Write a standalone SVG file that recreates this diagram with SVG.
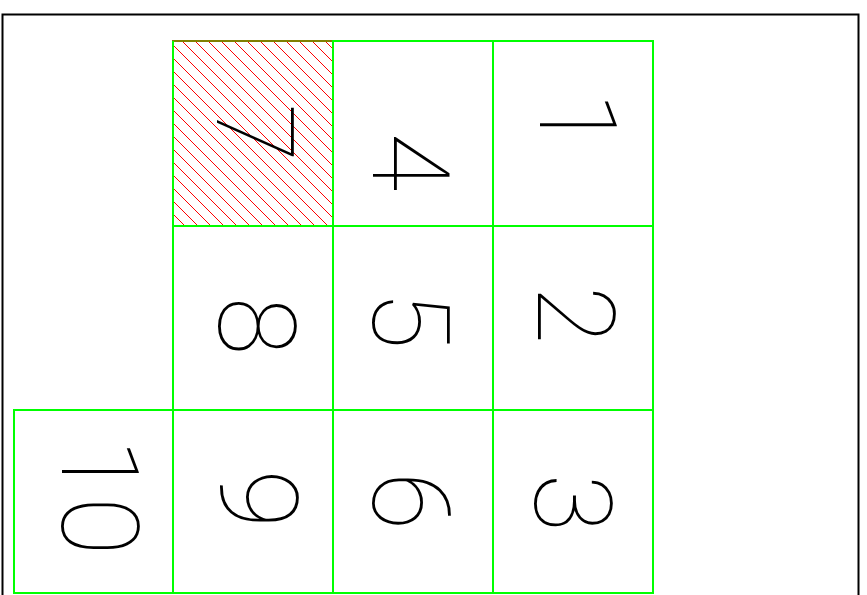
<svg xmlns="http://www.w3.org/2000/svg" width="867" height="595" viewBox="0 0 867 595">
<style>
.cell{fill:none;stroke:#00ff00;stroke-width:2}
.digit{font-family:Roboto,"DejaVu Sans",sans-serif;font-weight:100;font-size:107px;fill:#000;text-anchor:middle}
.frame{fill:none;stroke:#000;stroke-width:2}
.hatch{fill:none;stroke:#ff0000;stroke-width:1;shape-rendering:crispEdges}
</style>
<defs>
<clipPath id="clip7"><rect x="173" y="41" width="160" height="185"/></clipPath>
</defs>
<rect width="867" height="595" fill="#fff"/>
<rect class="frame" x="2.5" y="14.5" width="856" height="600"/>
<g id="cell-7">
<path class="hatch" clip-path="url(#clip7)" d="M173,-111L333,49M173,-98L333,62M173,-85L333,75M173,-72L333,88M173,-59L333,101M173,-46L333,114M173,-33L333,127M173,-20L333,140M173,-7L333,153M173,6L333,166M173,19L333,179M173,32L333,192M173,45L333,205M173,58L333,218M173,71L333,231M173,84L333,244M173,97L333,257M173,110L333,270M173,123L333,283M173,136L333,296M173,149L333,309M173,162L333,322M173,175L333,335M173,188L333,348M173,201L333,361M173,214L333,374"/>
<rect x="173" y="41" width="160" height="185" fill="none" stroke="#808000" stroke-width="2"/>
<line x1="173" y1="41" x2="173" y2="226" stroke="#00ff00" stroke-width="2"/>
<text class="digit" transform="translate(217,133) rotate(90)">7</text>
</g>
<g id="cell-4">
<rect class="cell" x="333" y="41" width="160" height="185"/>
<text class="digit" transform="translate(373,162) rotate(90)">4</text>
</g>
<g id="cell-1">
<rect class="cell" x="493" y="41" width="160" height="185"/>
<text class="digit" transform="translate(540,121) rotate(90)">1</text>
</g>
<g id="cell-8">
<rect class="cell" x="173" y="226" width="160" height="184"/>
<text class="digit" transform="translate(219,326) rotate(90)">8</text>
</g>
<g id="cell-5">
<rect class="cell" x="333" y="226" width="160" height="184"/>
<text class="digit" transform="translate(373,320) rotate(90)">5</text>
</g>
<g id="cell-2">
<rect class="cell" x="493" y="226" width="160" height="184"/>
<text class="digit" transform="translate(538,315) rotate(90)">2</text>
</g>
<g id="cell-10">
<rect class="cell" x="14" y="410" width="159" height="183"/>
<text class="digit" transform="translate(62,497) rotate(90)">10</text>
</g>
<g id="cell-9">
<rect class="cell" x="173" y="410" width="160" height="183"/>
<text class="digit" transform="translate(221,499) rotate(90)">9</text>
</g>
<g id="cell-6">
<rect class="cell" x="333" y="410" width="160" height="183"/>
<text class="digit" transform="translate(373,501) rotate(90)">6</text>
</g>
<g id="cell-3">
<rect class="cell" x="493" y="410" width="160" height="183"/>
<text class="digit" transform="translate(535,503) rotate(90)">3</text>
</g>
<g id="connectors"/>
</svg>
